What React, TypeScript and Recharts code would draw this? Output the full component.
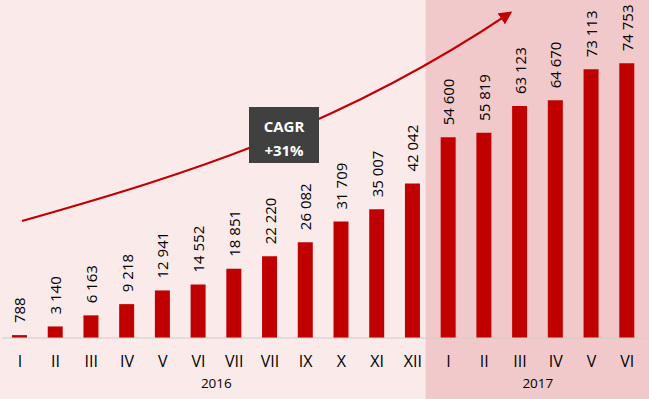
import React from 'react';
import { BarChart, Bar, XAxis, YAxis, LabelList, ReferenceArea } from 'recharts';

const W = 649;
const H = 399;

const months2016 = ['I', 'II', 'III', 'IV', 'V', 'VI', 'VII', 'VII', 'IX', 'X', 'XI', 'XII'];
const values2016 = [788, 3140, 6163, 9218, 12941, 14552, 18851, 22220, 26082, 31709, 35007, 42042];
const months2017 = ['I', 'II', 'III', 'IV', 'V', 'VI'];
const values2017 = [54600, 55819, 63123, 64670, 73113, 74753];
const years = ['2016', '2017'];

const FONT = "'Open Sans', 'Noto Sans', sans-serif";
const BAR = '#C00000';

const rows = [
  ...months2016.map((m, i) => ({ key: `2016-${i}`, month: m, year: years[0], pos: i, count: months2016.length, value: values2016[i] })),
  ...months2017.map((m, i) => ({ key: `2017-${i}`, month: m, year: years[1], pos: i, count: months2017.length, value: values2017[i] })),
];

const fmt = (v: number) => String(v).replace(/\B(?=(\d{3})+(?!\d))/g, ' ');

const BarLabel = (props: any) => {
  const { x, y, width, value } = props;
  const cx = Number(x) + Number(width) / 2;
  const ty = Number(y) - 12;
  return (
    <text
      x={cx}
      y={ty}
      transform={`rotate(-90, ${cx}, ${ty})`}
      textAnchor="start"
      dominantBaseline="central"
      fontSize={15}
      fontFamily={FONT}
      fill="#000"
    >
      {fmt(value)}
    </text>
  );
};

const MonthTick = (props: any) => {
  const { x, y, payload, index } = props;
  const row = rows[index];
  if (!row) return null;
  const half = payload?.offset ?? 17.9;
  const mid = (row.count - 1) / 2;
  const showYear = Math.floor(mid) === row.pos;
  const yearX = x + (mid - row.pos) * 2 * half;
  return (
    <g>
      <text x={x} y={y + 23} textAnchor="middle" dominantBaseline="central" fontSize={16} fontFamily={FONT} fill="#000">
        {row.month}
      </text>
      {showYear && (
        <text x={yearX} y={y + 45} textAnchor="middle" dominantBaseline="central" fontSize={13.5} fontFamily={FONT} fill="#000">
          {row.year}
        </text>
      )}
    </g>
  );
};

// shaded band behind the 2017 months, running the full height of the picture
const BandShape = (props: any) => (
  <rect x={props.x - 5} y={0} width={W - props.x + 5} height={H} fill="#F2C9CA" />
);

export default function App() {
  return (
    <div style={{ position: 'relative', width: W, height: H, background: '#FBEAEA', overflow: 'hidden' }}>
      <style>{'body{margin:0}'}</style>
      <BarChart width={W} height={H} data={rows} margin={{ top: 44, right: 4, bottom: 0, left: 2 }}>
        <ReferenceArea x1="2017-0" x2="2017-5" shape={BandShape} ifOverflow="visible" />
        <XAxis
          dataKey="key"
          interval={0}
          height={61}
          tickLine={false}
          tickSize={0}
          tickMargin={0}
          axisLine={{ stroke: '#D0CCCC' }}
          tick={<MonthTick />}
        />
        <YAxis hide domain={[0, 80000]} />
        <Bar dataKey="value" fill={BAR} barSize={15} isAnimationActive={false}>
          <LabelList dataKey="value" content={<BarLabel />} />
        </Bar>
      </BarChart>

      {/* CAGR trend arrow and box */}
      <svg width={W} height={H} style={{ position: 'absolute', left: 0, top: 0, pointerEvents: 'none' }}>
        <defs>
          <marker id="arrowHead" viewBox="0 0 10 10" refX="8" refY="5" markerWidth="6" markerHeight="6" orient="auto">
            <path d="M0,0 L10,5 L0,10 z" fill={BAR} />
          </marker>
        </defs>
        <path d="M22,221 C192,173 343,125 510,13" fill="none" stroke={BAR} strokeWidth={2.2} markerEnd="url(#arrowHead)" />
        <rect x={249} y={107} width={70} height={56} fill="#404040" />
        <text x={284} y={126} textAnchor="middle" dominantBaseline="central" fontSize={15} fontWeight="bold" fontFamily={FONT} fill="#fff">
          CAGR
        </text>
        <text x={284} y={150} textAnchor="middle" dominantBaseline="central" fontSize={15} fontWeight="bold" fontFamily={FONT} fill="#fff">
          +31%
        </text>
      </svg>
    </div>
  );
}
